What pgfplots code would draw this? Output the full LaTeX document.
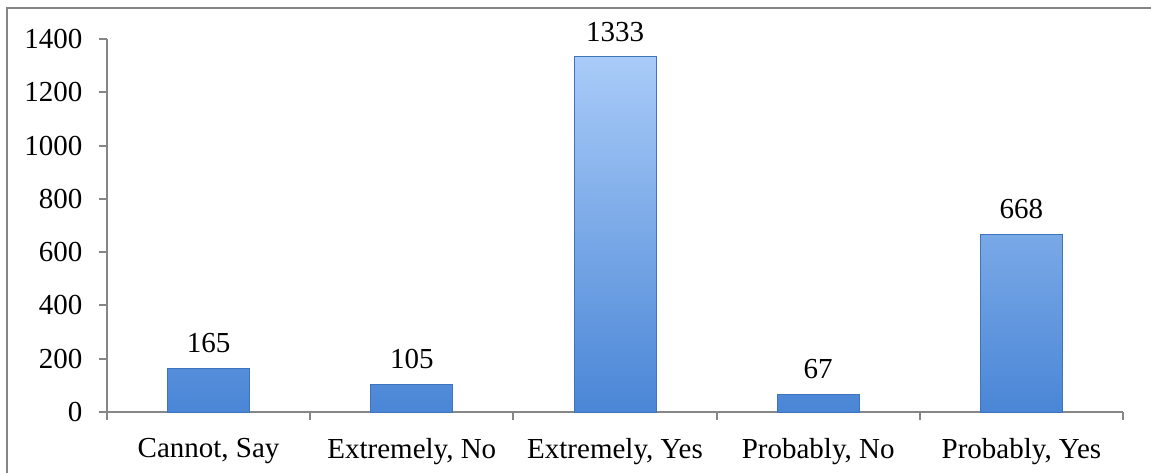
\documentclass[border=0pt]{standalone}
\usepackage{pgfplots}
\pgfplotsset{compat=1.18}
\usepackage{fontspec}
\setmainfont{Liberation Serif}
\definecolor{axgray}{HTML}{868686}
\definecolor{bartop}{HTML}{A9CBF8}
\definecolor{barbot}{HTML}{4A86D6}
\definecolor{baredge}{HTML}{3E74BE}
\begin{document}
\begin{tikzpicture}
\path[use as bounding box] (-53.5pt,-30pt) rectangle (522pt,206pt);
\draw[axgray, line width=1pt] (-49.75pt,-60pt) -- (-49.75pt,201.75pt) -- (560pt,201.75pt);
\begin{axis}[
  scale only axis, width=508pt, height=186.5pt,
  xmin=-0.5, xmax=4.5, ymin=0, ymax=1400,
  axis x line*=bottom, axis y line*=left,
  axis line style={axgray, line width=1pt},
  ytick={0,200,...,1400},
  xtick={-0.5,0.5,...,4.5},
  xticklabels={{Cannot, Say},{Extremely, No},{Extremely, Yes},{Probably, No},{Probably, Yes}},
  x tick label as interval,
  tick align=outside, major tick length=3.75pt,
  tick style={axgray, line width=1pt},
  ticklabel style={font=\fontsize{14.5}{17}\selectfont},
  /pgf/number format/assume math mode=true,
  /pgf/number format/1000 sep={},
  yticklabel style={xshift=-5pt},
  xticklabel style={yshift=-6pt},
  ybar, bar width=41pt,
  nodes near coords,
  every node near coord/.append style={font=\fontsize{14.5}{17}\selectfont, black, yshift=4pt},
  clip=false,
]
\addplot[ybar, bar width=41pt, draw=baredge, line width=0.4pt, top color=bartop, bottom color=barbot]
  coordinates {(0,165) (1,105) (2,1333) (3,67) (4,668)};
\end{axis}
\end{tikzpicture}
\end{document}
